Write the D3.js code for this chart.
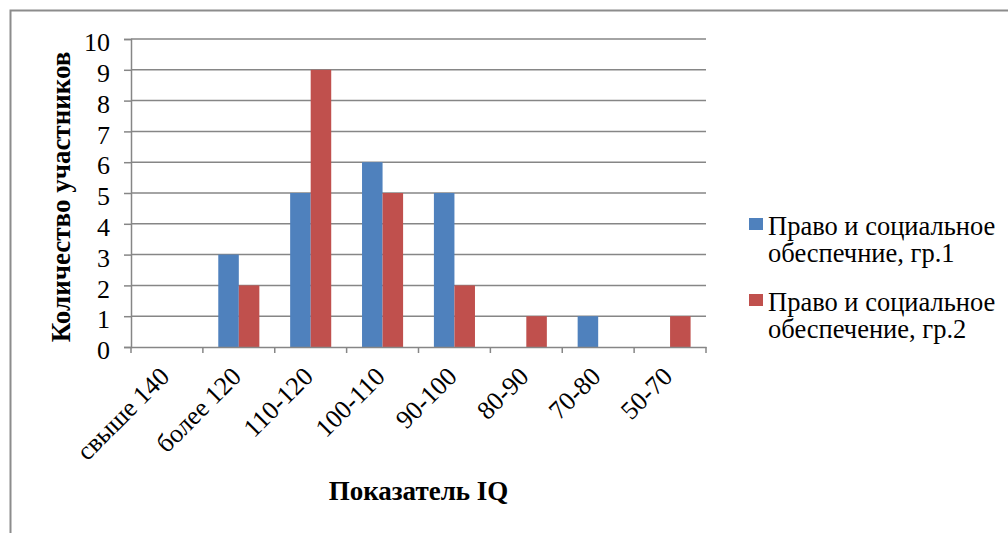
<!DOCTYPE html>
<html>
<head>
<meta charset="utf-8">
<script src="https://cdn.jsdelivr.net/npm/d3@7"></script>
<style>
  body { margin: 0; background: #fff; }
</style>
</head>
<body>
<div id="chart"></div>
<script>
(function() {
  // data
  var categories = ['свыше 140', 'более 120', '110-120', '100-110', '90-100', '80-90', '70-80', '50-70'];
  var group1 = [0, 3, 5, 6, 5, 0, 1, 0];
  var group2 = [0, 2, 9, 5, 2, 1, 0, 1];
  var seriesNames = [
    ['Право и социальное', 'обеспечние, гр.1'],
    ['Право и социальное', 'обеспечение, гр.2']
  ];
  var colors = ['#4F81BD', '#C0504D'];
  var yTicks = [0, 1, 2, 3, 4, 5, 6, 7, 8, 9, 10];

  var serif = '"Liberation Serif", "Times New Roman", serif';

  var W = 1008, H = 533;
  var margin = {top: 39, left: 131, right: 302, bottom: 186};
  var width = W - margin.left - margin.right,
      height = H - margin.top - margin.bottom;

  var svgRoot = d3.select("#chart")
    .append("svg")
    .attr("width", W)
    .attr("height", H);

  // outer chart frame
  svgRoot.append("rect")
    .attr("x", 10.5)
    .attr("y", 10.5)
    .attr("width", W + 20)
    .attr("height", H + 20)
    .attr("fill", "none")
    .attr("stroke", "#8c8c8c")
    .attr("stroke-width", 2);

  var svg = svgRoot.append("g")
    .attr("transform", "translate(" + margin.left + "," + margin.top + ")");

  var xPositionScale = d3.scaleBand()
    .domain(categories)
    .range([0, width]);

  var xInner = d3.scaleBand()
    .domain([0, 1])
    .range([0, xPositionScale.bandwidth()])
    .paddingOuter(0.75);

  var yPositionScale = d3.scaleLinear()
    .domain([0, 10])
    .range([height, 0]);

  // gridlines
  svg.selectAll(".grid")
    .data(yTicks.slice(1))
    .enter().append("line")
    .attr("class", "grid")
    .attr("x1", 0)
    .attr("x2", width)
    .attr("y1", function(d) { return yPositionScale(d); })
    .attr("y2", function(d) { return yPositionScale(d); })
    .attr("stroke", "#868686")
    .attr("stroke-width", 1.5);

  // bars
  var series = [group1, group2];
  series.forEach(function(values, i) {
    svg.selectAll(".bar-" + i)
      .data(values.map(function(v, j) { return {cat: categories[j], value: v}; }))
      .enter().append("rect")
      .attr("class", "bar-" + i)
      .attr("x", function(d) { return xPositionScale(d.cat) + xInner(i); })
      .attr("y", function(d) { return yPositionScale(d.value); })
      .attr("width", xInner.bandwidth())
      .attr("height", function(d) { return height - yPositionScale(d.value); })
      .attr("fill", colors[i]);
  });

  // x axis
  var xAxis = d3.axisBottom(xPositionScale).tickSize(0).tickFormat("");
  var xg = svg.append("g")
    .attr("class", "x axis")
    .attr("transform", "translate(0," + height + ")")
    .call(xAxis);
  xg.select(".domain").attr("stroke", "#868686").attr("stroke-width", 1.5);

  // tick marks at category boundaries
  var bounds = categories.map(function(c) { return xPositionScale(c); }).concat([width]);
  svg.selectAll(".xtick")
    .data(bounds)
    .enter().append("line")
    .attr("class", "xtick")
    .attr("x1", function(d) { return d; })
    .attr("x2", function(d) { return d; })
    .attr("y1", height)
    .attr("y2", height + 6)
    .attr("stroke", "#868686")
    .attr("stroke-width", 1.5);

  svg.selectAll(".xlabel")
    .data(categories)
    .enter().append("text")
    .attr("class", "xlabel")
    .attr("transform", function(d) {
      return "translate(" + (xPositionScale(d) + xPositionScale.bandwidth() / 2 + 4) + "," + (height + 31) + ") rotate(-45)";
    })
    .style("text-anchor", "end")
    .style("font-family", serif)
    .style("font-size", "26px")
    .text(function(d) { return d; });

  // y axis
  var yAxis = d3.axisLeft(yPositionScale).tickValues(yTicks).tickSize(7).tickPadding(14);
  var yg = svg.append("g")
    .attr("class", "y axis")
    .call(yAxis);
  yg.select(".domain").attr("stroke", "#868686").attr("stroke-width", 1.5);
  yg.selectAll(".tick line").attr("stroke", "#868686").attr("stroke-width", 1.5);
  yg.selectAll(".tick text")
    .attr("dy", "0.45em")
    .style("font-family", serif)
    .style("font-size", "26px")
    .attr("fill", "#000");

  // axis titles
  svg.append("text")
    .attr("transform", "translate(" + (-61) + "," + (height / 2 + 4) + ") rotate(-90)")
    .style("text-anchor", "middle")
    .style("font-family", serif)
    .style("font-size", "27px")
    .style("font-weight", "bold")
    .text("Количество участников");

  svg.append("text")
    .attr("x", width / 2)
    .attr("y", height + 153)
    .style("text-anchor", "middle")
    .style("font-family", serif)
    .style("font-size", "27px")
    .style("font-weight", "bold")
    .text("Показатель IQ");

  // legend
  var legend = svgRoot.selectAll(".legend")
    .data(seriesNames)
    .enter().append("g")
    .attr("class", "legend")
    .attr("transform", function(d, i) { return "translate(749," + (218 + i * 76) + ")"; });

  legend.append("rect")
    .attr("width", 14)
    .attr("height", 12)
    .attr("fill", function(d, i) { return colors[i]; });

  legend.append("text")
    .attr("y", 16.5)
    .style("font-family", serif)
    .style("font-size", "26.5px")
    .selectAll("tspan")
    .data(function(d) { return d; })
    .enter().append("tspan")
    .attr("x", 19)
    .attr("dy", function(d, j) { return j === 0 ? 0 : 27.5; })
    .text(function(d) { return d; });
})();
</script>
</body>
</html>
